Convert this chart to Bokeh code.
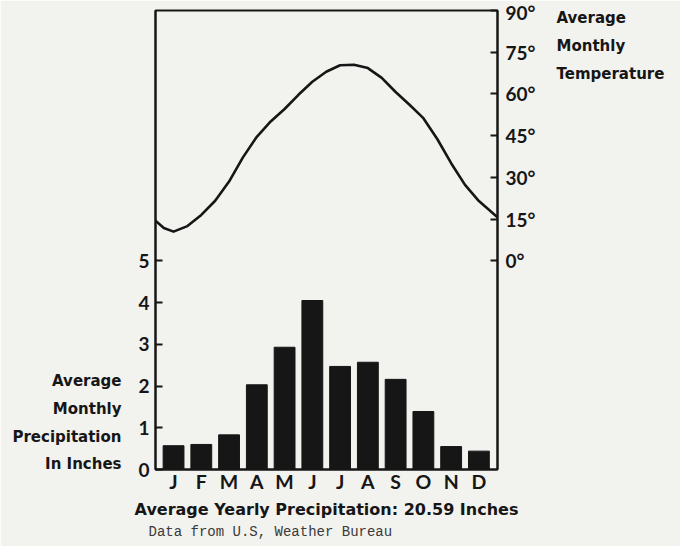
from bokeh.plotting import figure
from bokeh.models import Range1d, LinearAxis, FixedTicker, Title
from bokeh.embed import file_html
from bokeh.resources import INLINE

# ---- data ----
months = ["J", "F", "M", "A", "M", "J", "J", "A", "S", "O", "N", "D"]
precip = [0.57, 0.60, 0.83, 2.03, 2.93, 4.05, 2.47, 2.57, 2.16, 1.39, 0.55, 0.44]

# temperature curve readings (month position, degrees F)
temp_pos = [-0.65, -0.35, 0, 0.5, 1, 1.5, 2, 2.5, 3, 3.5, 4, 4.5, 5, 5.5,
            6, 6.5, 7, 7.5, 8, 8.5, 9, 9.5, 10, 10.5, 11, 11.67]
temp_val = [14.4, 11.8, 10.5, 12.5, 16.5, 21.6, 28.5, 37.2, 44.6, 50.1, 54.6, 59.7,
            64.4, 68.0, 70.3, 70.5, 69.3, 65.8, 60.7, 56.1, 51.3, 43.8, 35.1, 27.3,
            21.5, 15.7]

precip_ticks = [0, 1, 2, 3, 4, 5]
temp_ticks = [0, 15, 30, 45, 60, 75, 90]

# side captions (text and the axis value they sit beside)
temp_caption = ["Average", "Monthly", "Temperature"]
temp_caption_at = [10.83, 10.14, 9.49]
precip_caption = ["Average", "Monthly", "Precipitation", "In Inches"]
precip_caption_at = [2.13, 1.46, 0.77, 0.14]

BG = "#f2f2ef"
INK = "#161616"
FONT = "Lato"
CAP_FONT = "DejaVu Sans"

p = figure(width=680, height=546, output_backend="svg", toolbar_location=None,
           x_range=Range1d(-0.65, 11.67), y_range=Range1d(0, 11),
           min_border_left=155, min_border_right=183, min_border_top=10,
           min_border_bottom=77)
p.extra_y_ranges = {"temp": Range1d(-75, 90)}

p.background_fill_color = BG
p.border_fill_color = BG
p.outline_line_color = INK
p.outline_line_width = 2
p.xgrid.visible = False
p.ygrid.visible = False

# bars
p.vbar(x=list(range(12)), top=precip, width=0.75, bottom=0,
       fill_color=INK, line_color=INK)

# temperature curve
p.line(x=temp_pos, y=temp_val, y_range_name="temp", line_color=INK,
       line_width=2.6, line_join="round", line_cap="round")


def style_axis(ax, size="19px", style="bold", standoff=6, font=FONT):
    ax.minor_tick_line_color = None
    ax.axis_line_color = INK
    ax.axis_line_width = 2
    ax.major_tick_line_color = INK
    ax.major_tick_line_width = 2
    ax.major_tick_in = 7
    ax.major_tick_out = 0
    ax.major_label_standoff = standoff
    ax.major_label_text_font = font
    ax.major_label_text_font_style = style
    ax.major_label_text_font_size = size
    ax.major_label_text_color = INK


# left axis (precipitation)
la = p.yaxis[0]
la.ticker = FixedTicker(ticks=precip_ticks)
style_axis(la, standoff=6)

# bottom axis (months)
ba = p.xaxis[0]
ba.ticker = FixedTicker(ticks=list(range(12)))
ba.major_label_overrides = {i: m for i, m in enumerate(months)}
style_axis(ba, size="19.5px", standoff=0)
ba.major_tick_in = 0

# right axis (temperature)
ra = LinearAxis(y_range_name="temp", ticker=FixedTicker(ticks=temp_ticks),
                major_label_overrides={t: f"{t}°" for t in temp_ticks})
style_axis(ra, standoff=8)
p.add_layout(ra, "right")


def caption_axis(values, texts, side, standoff):
    ax = LinearAxis(ticker=FixedTicker(ticks=values),
                    major_label_overrides=dict(zip(values, texts)))
    style_axis(ax, size="15px", style="bold", standoff=standoff, font=CAP_FONT)
    ax.axis_line_color = None
    ax.major_tick_line_color = None
    ax.major_tick_in = 0
    p.add_layout(ax, side)


caption_axis(temp_caption_at, temp_caption, "right", 18)
caption_axis(precip_caption_at, precip_caption, "left", 14)

# captions below
p.add_layout(Title(text="Average Yearly Precipitation: 20.59 Inches", align="center",
                   offset=-3, standoff=4, text_font=CAP_FONT, text_font_size="16px",
                   text_font_style="bold", text_color=INK), "below")
p.add_layout(Title(text="Data from U.S, Weather Bureau", align="left", offset=-7,
                   standoff=2, text_font="Liberation Mono", text_font_size="14px",
                   text_font_style="normal", text_color="#3a3a3a"), "below")

html = file_html(p, INLINE)
html = html.replace("<body>", '<body style="background:#f2f2ef;">', 1)
open("out.html", "w").write(html)
